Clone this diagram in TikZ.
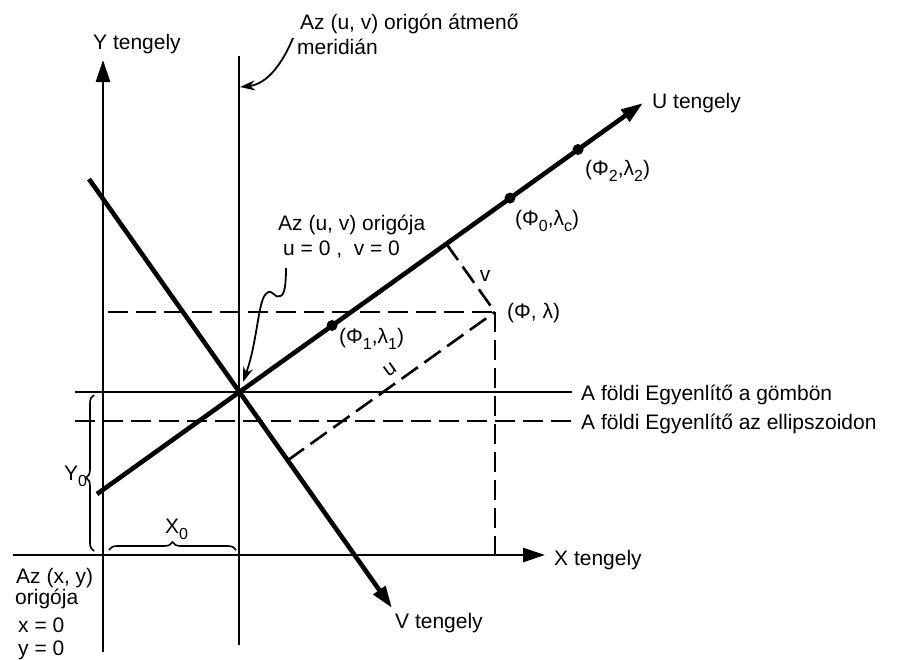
\documentclass[tikz,border=0pt]{standalone}
\usepackage{fontspec}
\setmainfont{Liberation Sans}
\usetikzlibrary{arrows.meta,decorations.pathreplacing}
\newcommand\lowsub[1]{\raisebox{-0.55ex}{\fontsize{16}{16}\selectfont #1}}
\begin{document}
\begin{tikzpicture}[x=1pt,y=-1pt,
  lbl/.style={font=\fontsize{21}{24}\selectfont, inner sep=0pt, anchor=base west},
  axisline/.style={line width=2.8pt},
  thickaxis/.style={line width=4.6pt},
  thinline/.style={line width=2.3pt},
  dsh/.style={line width=2.6pt, dash pattern=on 20pt off 8pt},
  tipA/.style={-{Triangle[length=22pt,width=14pt]}},
  pointer/.style={line width=1.8pt, -{Stealth[length=15pt,width=10pt]}},
  dot/.style={circle, fill, inner sep=0pt, minimum size=11pt},
  brc/.style={line width=1.6pt, decorate}]
\useasboundingbox (0,0) rectangle (897,659);
\fill[white] (0,0) rectangle (897,659);
% key points
\coordinate (O) at (239,392);
\coordinate (Ybot) at (103,652);
\coordinate (Ytop) at (103,60);
\coordinate (Mtop) at (239,56);
\coordinate (Mbot) at (239,645);
\coordinate (Xl) at (13,555);
\coordinate (Xr) at (545,555);
\coordinate (Ul) at (97,494);
\coordinate (Ur) at (643,103);
\coordinate (Vl) at (89,179);
\coordinate (Vr) at (392,608);
\coordinate (P) at (495,312);
\coordinate (F) at (446.3,243.7);
\coordinate (G) at (287.7,460.3);
\coordinate (Hl) at (108,312);
\coordinate (Pb) at (495,555);
\coordinate (E1l) at (75,392);
\coordinate (E1r) at (572,392);
\coordinate (E2l) at (75,421);
\coordinate (E2r) at (572,421);
% equators
\draw[thinline] (E1l) -- (E1r);
\draw[dsh] (E2l) -- (E2r);
% dashed constructions
\draw[dsh] (Hl) -- (P);
\draw[dsh] (P) -- (Pb);
\draw[dsh] (F) -- (P);
\draw[dsh] (G) -- (P);
% axes
\draw[axisline,tipA] (Ybot) -- (Ytop);
\draw[axisline] (Mbot) -- (Mtop);
\draw[axisline,tipA] (Xl) -- (Xr);
\draw[thickaxis,tipA] (Ul) -- (Ur);
\draw[thickaxis,tipA] (Vl) -- (Vr);
% points on U axis
\node[dot] (D1) at (332,325.5) {};
\node[dot] (D0) at (510,198) {};
\node[dot] (D2) at (578,149.5) {};
% labels
\node[lbl] (ylab) at (93,49) {Y tengely};
\node[lbl] (mlab1) at (300,29) {Az (u, v) origón átmenő};
\node[lbl] (mlab2) at (297,54) {meridián};
\node[lbl] (olab1) at (278,230) {Az (u, v) origója};
\node[lbl] (olab2) at (283,255) {u = 0 ,\ \ v = 0};
\node[lbl] (ulab) at (652,108) {U tengely};
\node[lbl] (p2) at (585,175) {(Φ\lowsub{2},λ\lowsub{2})};
\node[lbl] (p0) at (515,225) {(Φ\lowsub{0},λ\lowsub{c})};
\node[lbl] (p1) at (339,343) {(Φ\lowsub{1},λ\lowsub{1})};
\node[lbl] (pp) at (507,318) {(Φ, λ)};
\node[font=\fontsize{21}{24}\selectfont, inner sep=0pt] (vl) at (485,276) {v};
\node[font=\fontsize{21}{24}\selectfont, inner sep=0pt, rotate=35.6] (ul) at (390,370) {u};
\node[lbl] (eq1) at (581,400) {A földi Egyenlítő a gömbön};
\node[lbl] (eq2) at (581,429) {A földi Egyenlítő az ellipszoidon};
\node[lbl] (xlab) at (554,565) {X tengely};
\node[lbl] (vlab) at (395,628) {V tengely};
\node[lbl] (xy1) at (16,583) {Az (x, y)};
\node[lbl] (xy2) at (15,604) {origója};
\node[lbl] (xy3) at (18,632) {x = 0};
\node[lbl] (xy4) at (18,655) {y = 0};
\node[lbl] (y0) at (64,480) {Y\lowsub{0}};
\node[lbl] (x0) at (165,533) {X\lowsub{0}};
% braces
\coordinate (B1a) at (94,551);
\coordinate (B1b) at (94,395);
\draw[brc, decoration={brace, amplitude=8pt, aspect=0.47}] (B1a) -- (B1b);
\coordinate (B2a) at (109,550);
\coordinate (B2b) at (236,550);
\draw[brc, decoration={brace, amplitude=8pt}] (B2a) -- (B2b);
% pointer arrows
\coordinate (M1) at (293,38);
\coordinate (M2) at (240,87);
\draw[pointer] (M1) .. controls (283,62) and (268,84) .. (M2);
\coordinate (W1) at (286,268);
\coordinate (W2) at (280,296);
\coordinate (W3) at (267,293);
\coordinate (W4) at (243,382);
\draw[pointer] (W1) .. controls (286,282) and (285,296) .. (W2)
  .. controls (276,300) and (272,288) .. (W3)
  .. controls (258,298) and (258,340) .. (W4);
\end{tikzpicture}
\end{document}
